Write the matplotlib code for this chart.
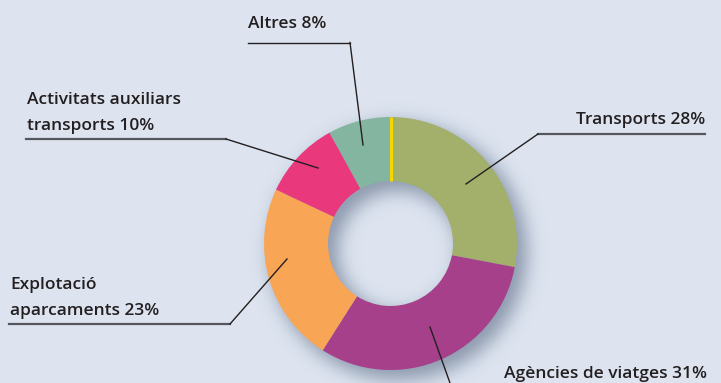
import numpy as np
import matplotlib
matplotlib.use("Agg")
import matplotlib.pyplot as plt

W, H = 721, 383

labels = ["Transports 28%", "Agències de viatges 31%", "Explotació\naparcaments 23%",
          "Activitats auxiliars\ntransports 10%", "Altres 8%"]
shares = [28, 31, 23, 10, 8]
colors = ["#a2b06c", "#a6408a", "#f8a656", "#e9387c", "#84b5a0"]

BG = "#dde4f0"
CX, CY = 390.5, 243.5
R_OUT, R_IN = 126.5, 62.5


def py(y):
    # pixel rows counted from the top
    return H - y


def blur(img, sigma):
    r = int(3 * sigma)
    k = np.exp(-0.5 * (np.arange(-r, r + 1) / sigma) ** 2)
    k /= k.sum()
    img = np.apply_along_axis(lambda v: np.convolve(v, k, mode="same"), 0, img)
    img = np.apply_along_axis(lambda v: np.convolve(v, k, mode="same"), 1, img)
    return img


fig = plt.figure(figsize=(W / 100, H / 100), dpi=100, facecolor=BG)
ax = fig.add_axes([0, 0, 1, 1])

# soft drop shadow under the ring
yy, xx = np.mgrid[0:H, 0:W] + 0.5
dist = np.hypot(xx - (CX + 8), yy - (CY + 8))
mask = ((dist <= R_OUT + 2) & (dist >= R_IN - 2)).astype(float)
shade = np.clip(blur(mask, 9) * 1.0, 0, 0.9)
rgba = np.zeros((H, W, 4))
rgba[..., :3] = np.array([0x8c, 0x99, 0xad]) / 255
rgba[..., 3] = shade
ax.imshow(rgba, extent=(0, W, 0, H), origin="upper", zorder=1, interpolation="bilinear")

ax.pie(shares, colors=colors, startangle=90, counterclock=False,
       center=(CX, py(CY)), radius=R_OUT, frame=True,
       wedgeprops=dict(width=R_OUT - R_IN, linewidth=0))
ax.set_xlim(0, W)
ax.set_ylim(0, H)
ax.set_aspect("equal")
ax.axis("off")
for p in ax.patches:
    p.set_zorder(2)

# yellow start marker at 12 o'clock
ax.plot([CX, CX], [py(CY) + R_IN, py(CY) + R_OUT], color="#f5d800", lw=2.2, zorder=3,
        solid_capstyle="butt")

font = dict(family=["Open Sans", "DejaVu Sans"], fontsize=12.5, fontweight="semibold",
            color="#231f20", zorder=4)
lk = dict(color="#231f20", lw=1.0, zorder=4)
uk = dict(color="#55575c", lw=1.6, zorder=4)

# Transports
ax.text(705, py(124), labels[0], ha="right", va="baseline", **font)
ax.plot([538, 705], [py(134), py(134)], **uk)
ax.plot([466, 538], [py(184), py(134)], **lk)

# Agències de viatges
ax.text(707, py(378), labels[1], ha="right", va="baseline", **font)
ax.plot([430, 450], [py(327), py(383)], **lk)

# Explotació aparcaments
ax.text(10, py(315), labels[2], ha="left", va="baseline", linespacing=1.85, **font)
ax.plot([9, 230], [py(324), py(324)], **uk)
ax.plot([230, 287], [py(324), py(259)], **lk)

# Activitats auxiliars
ax.text(27, py(130), labels[3], ha="left", va="baseline", linespacing=1.85, **font)
ax.plot([26, 226], [py(139), py(139)], **uk)
ax.plot([226, 318], [py(139), py(168)], **lk)

# Altres
ax.text(248, py(28), labels[4], ha="left", va="baseline", **font)
ax.plot([248, 350], [py(42.5), py(42.5)], **lk)
ax.plot([350, 363], [py(42.5), py(145)], **lk)

fig.savefig("out.png", dpi=100, facecolor=BG)
